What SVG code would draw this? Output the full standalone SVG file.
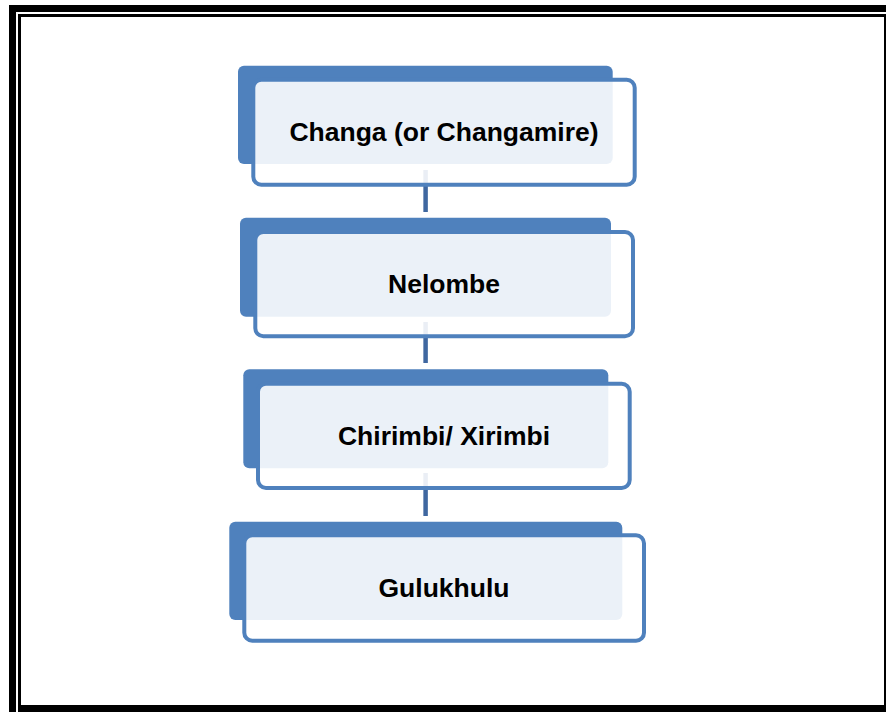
<svg xmlns="http://www.w3.org/2000/svg" width="886" height="712" viewBox="0 0 886 712">
  <style>
    .back { fill: #4F81BD; }
    .front { fill: #FFFFFF; fill-opacity: 0.89; stroke: #4F81BD; stroke-width: 4; }
    .label { font-family: "Liberation Sans", Arial, sans-serif; font-weight: bold; font-size: 26.5px; fill: #000000; text-anchor: middle; }
    .link { stroke: #3F67A0; stroke-width: 4.5; fill: none; }
  </style>

  <!-- page frame: thick outer rule, thin inner rule -->
  <g id="frame">
    <rect x="0" y="0" width="886" height="712" fill="#FFFFFF"/>
    <rect x="9" y="5" width="877" height="707" fill="#000000"/>
    <rect x="16" y="12" width="870" height="700" fill="#FFFFFF"/>
    <rect x="18" y="14" width="868" height="698" fill="#000000"/>
    <rect x="21" y="17" width="863" height="688" fill="#FFFFFF"/>
  </g>

  <!-- vertical links between the stacked items (drawn beneath the boxes) -->
  <g id="connectors">
    <line class="link" x1="425.6" y1="170" x2="425.6" y2="212"/>
    <line class="link" x1="425.6" y1="322" x2="425.6" y2="363"/>
    <line class="link" x1="425.6" y1="473" x2="425.6" y2="516"/>
  </g>

  <g id="node-changa">
    <rect class="back" x="238" y="65.7" width="374.7" height="98.3" rx="6"/>
    <rect class="front" x="253.3" y="79.7" width="381.4" height="105" rx="8"/>
    <text class="label" x="444" y="141">Changa (or Changamire)</text>
  </g>

  <g id="node-nelombe">
    <rect class="back" x="240" y="217.7" width="371" height="99" rx="6"/>
    <rect class="front" x="255.3" y="232" width="377.7" height="104.3" rx="8"/>
    <text class="label" x="444" y="293.3">Nelombe</text>
  </g>

  <g id="node-chirimbi">
    <rect class="back" x="243.3" y="369.3" width="365" height="99" rx="6"/>
    <rect class="front" x="258" y="383.7" width="371.7" height="104.3" rx="8"/>
    <text class="label" x="444" y="445">Chirimbi/ Xirimbi</text>
  </g>

  <g id="node-gulukhulu">
    <rect class="back" x="229.3" y="521.7" width="393" height="98.3" rx="6"/>
    <rect class="front" x="244.3" y="535.3" width="399.7" height="105.4" rx="8"/>
    <text class="label" x="444" y="596.7">Gulukhulu</text>
  </g>
</svg>
